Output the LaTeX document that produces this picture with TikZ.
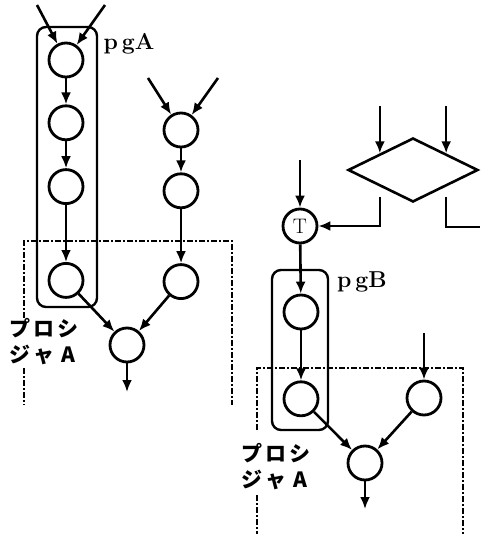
\documentclass[tikz,border=0pt]{standalone}
\usepackage{fontspec}
\newfontfamily\jpfont{Noto Sans CJK JP}
\usetikzlibrary{arrows.meta,positioning,shapes.geometric,fit}
\newcommand{\kana}[3]{\makebox[24pt]{#1}\makebox[24pt]{#2}\makebox[24pt]{#3}}

\begin{document}
\begin{tikzpicture}[x=1pt,y=-1pt,>={Latex[length=12pt,width=10pt]}]
  \tikzstyle{nd}=[draw,circle,line width=2.8pt,minimum size=34pt,inner sep=0pt]
  \tikzstyle{arr}=[line width=2.6pt,->]
  \tikzstyle{grp}=[draw,rounded corners=9pt,line width=2.4pt,inner sep=0pt]
  \tikzstyle{proc}=[line width=2.4pt,dash pattern=on 6pt off 2pt on 2pt off 2pt]
  \tikzstyle{lab}=[font=\fontsize{23}{25}\selectfont\bfseries]
  \tikzstyle{jp}=[font=\fontsize{21}{23}\selectfont\jpfont\bfseries,inner sep=0pt]
  \useasboundingbox (0,0) rectangle (480,534);

  % procedure A, first call
  \node[nd] (a1) at (66,60) {};
  \node[nd,below=26pt of a1] (a2) {};
  \node[nd,below=27pt of a2] (a3) {};
  \node[nd,below=57pt of a3] (a4) {};
  \node[nd] (b1) at (181,130) {};
  \node[nd,below=24pt of b1] (b2) {};
  \node[nd,below=54pt of b2] (b3) {};
  \node[nd] (m1) at (127,345) {};
  \node[grp,fit={(37,27) (97,307)}] (pgA) {};
  \node[lab] (lA) at (129,44) {p\,gA};
  \coordinate (iA1) at (37,5);
  \coordinate (iA2) at (105,5);
  \coordinate (iB1) at (148,78);
  \coordinate (iB2) at (218,78);
  \coordinate (oM1) at (127,392);
  \draw[arr] (iA1) -- (a1);
  \draw[arr] (iA2) -- (a1);
  \draw[arr] (a1) -- (a2);
  \draw[arr] (a2) -- (a3);
  \draw[arr] (a3) -- (a4);
  \draw[arr] (iB1) -- (b1);
  \draw[arr] (iB2) -- (b1);
  \draw[arr] (b1) -- (b2);
  \draw[arr] (b2) -- (b3);
  \draw[arr] (a4) -- (m1);
  \draw[arr] (b3) -- (m1);
  \draw[arr] (m1) -- (oM1);
  \draw[proc] (24,318) -- (24,241) -- (232,241) -- (232,405);
  \draw[proc] (24,368) -- (24,405);
  \node[jp] (tA1) at (44,328) {\kana{プ}{ロ}{シ}};
  \node[jp] (tA2) at (44,355) {\kana{ジ}{ャ}{A}};

  % branch and procedure A, second call
  \node[draw,diamond,line width=2.6pt,minimum width=130pt,minimum height=64pt,inner sep=0pt] (dec) at (413,170) {};
  \coordinate (iD1) at ([yshift=47pt]dec.north west);
  \coordinate (iD2) at ([yshift=47pt]dec.north east);
  \draw[arr] (iD1) -- (dec.north west);
  \draw[arr] (iD2) -- (dec.north east);
  \node[nd,font=\fontsize{21}{23}\selectfont] (T) at (300,226) {T};
  \coordinate (iT) at (300,160);
  \coordinate (oD2) at (480,227);
  \draw[arr] (iT) -- (T);
  \draw[arr] ([yshift=-10pt]dec.south west) |- (T);
  \draw[line width=2.6pt] ([yshift=-10pt]dec.south east) |- (oD2);
  \node[nd] (p1) at (301,312) {};
  \node[nd,below=50pt of p1] (p2) {};
  \node[nd] (c1) at (424,398) {};
  \node[nd] (m2) at (365,463) {};
  \node[grp,fit={(272,270) (328,430)}] (pgB) {};
  \node[lab] (lB) at (362,282) {p\,gB};
  \coordinate (iC1) at (424,333);
  \coordinate (oM2) at (365,509);
  \draw[arr] (T) -- (p1);
  \draw[arr] (p1) -- (p2);
  \draw[arr] (iC1) -- (c1);
  \draw[arr] (p2) -- (m2);
  \draw[arr] (c1) -- (m2);
  \draw[arr] (m2) -- (oM2);
  \draw[proc] (257,430) -- (257,368) -- (463,368) -- (463,534);
  \draw[proc] (257,495) -- (257,534);
  \node[jp] (tB1) at (276,453) {\kana{プ}{ロ}{シ}};
  \node[jp] (tB2) at (276,480) {\kana{ジ}{ャ}{A}};
\end{tikzpicture}
\end{document}
